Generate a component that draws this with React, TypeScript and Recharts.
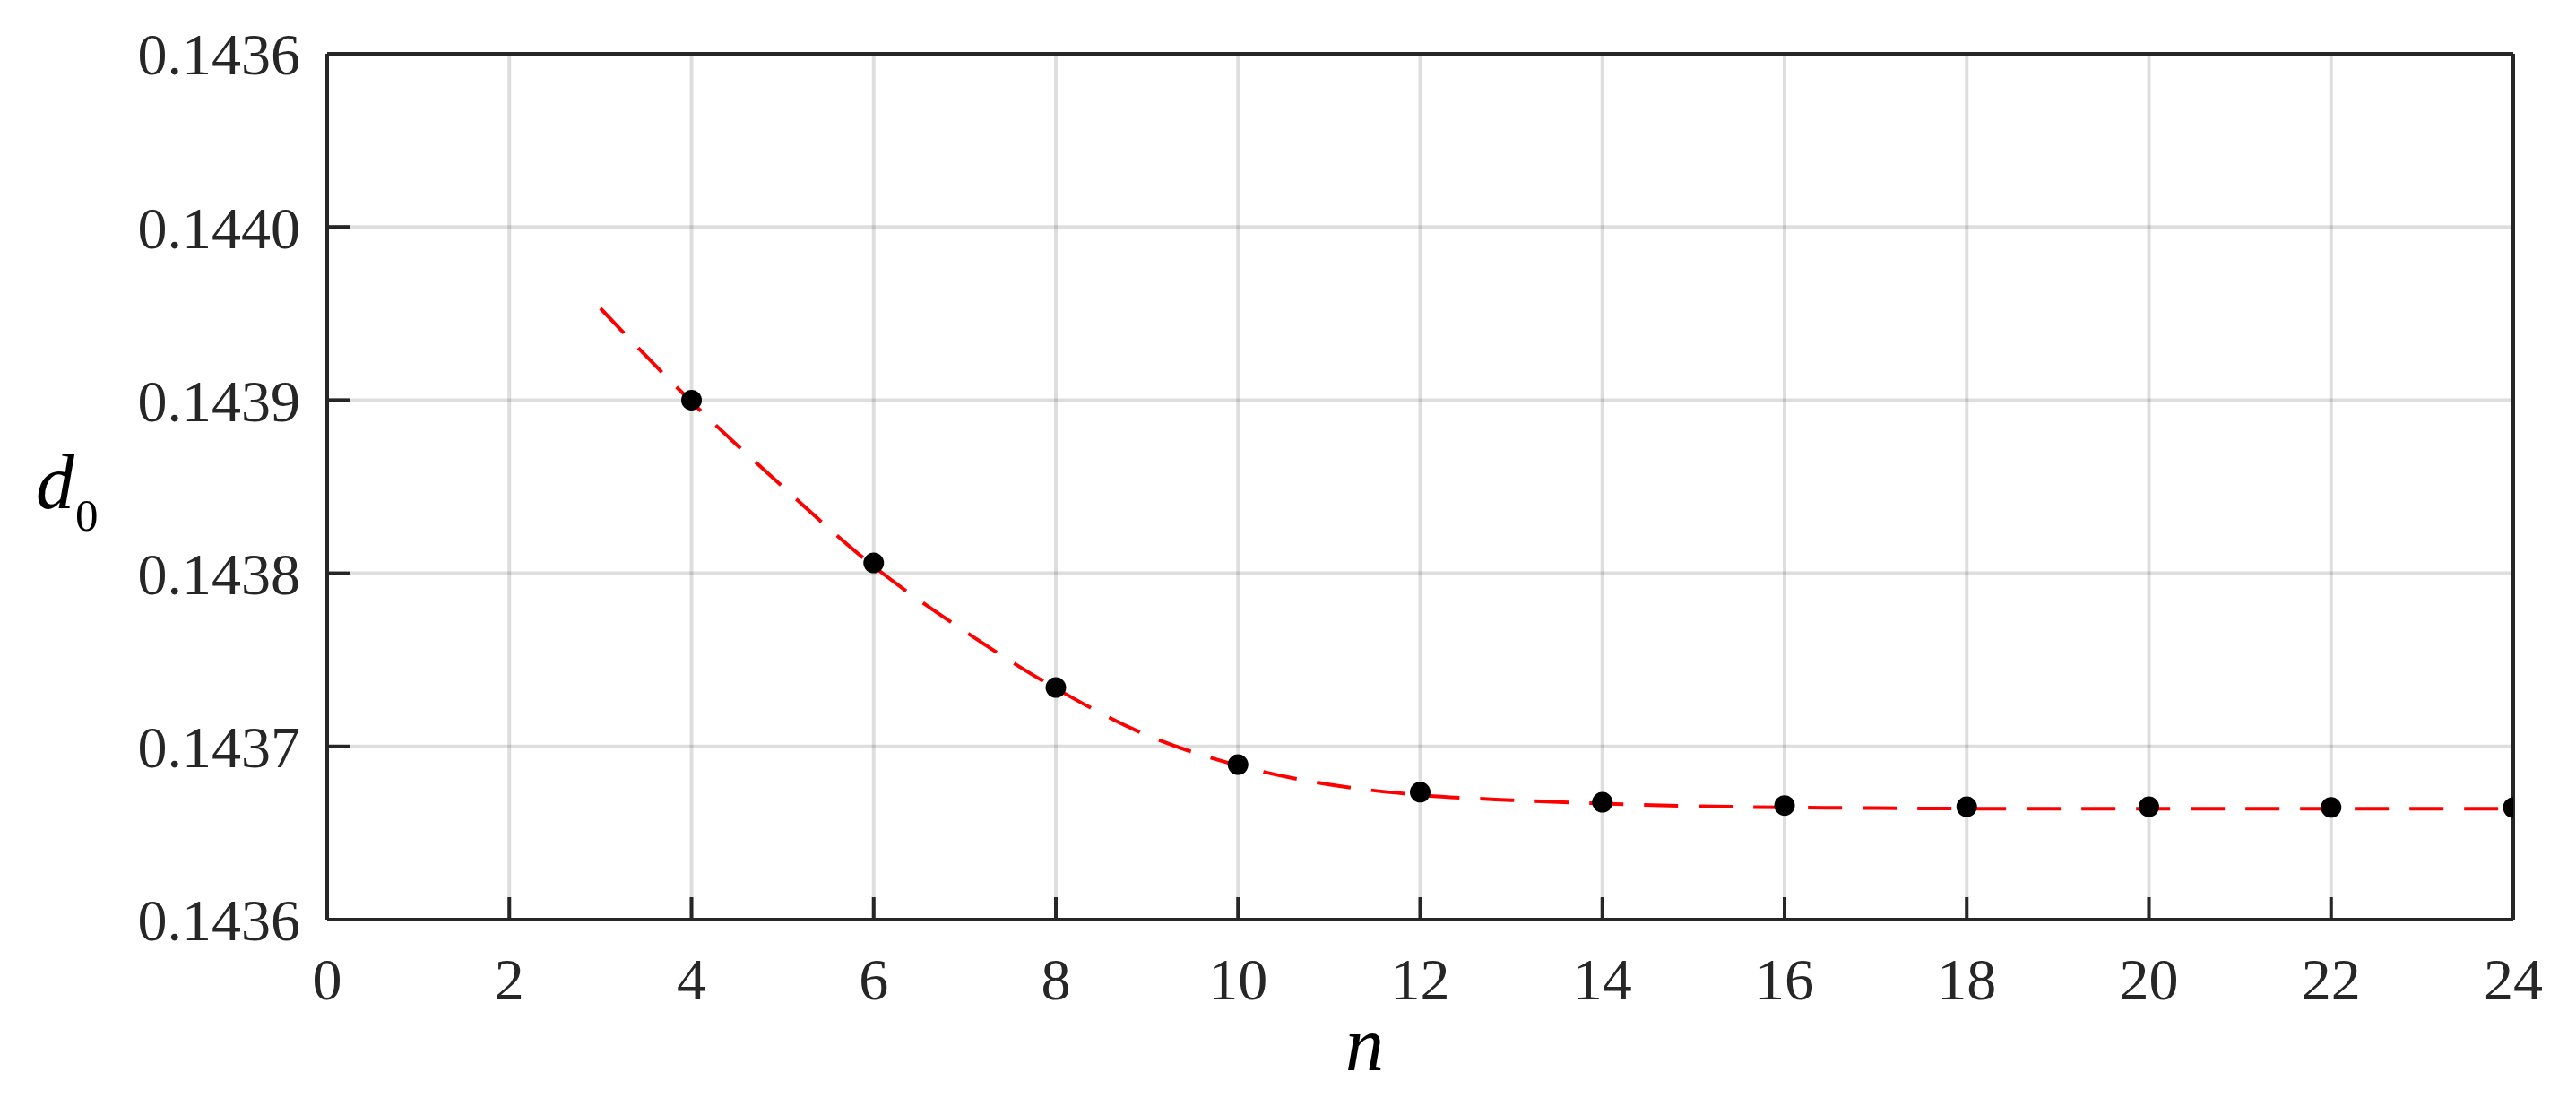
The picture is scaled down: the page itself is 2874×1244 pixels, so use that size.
import React from 'react';
import { ComposedChart, Line, Scatter, XAxis, YAxis, CartesianGrid } from 'recharts';

// Computed points (n, d0)
const nValues = [4, 6, 8, 10, 12, 14, 16, 18, 20, 22, 24];
const d0Values = [0.1439, 0.143806, 0.143734, 0.1436895, 0.1436736, 0.1436678, 0.1436659, 0.1436652, 0.1436652, 0.1436648, 0.1436647];

// Fitted curve (dashed red)
const fitN = [3, 4, 5, 6, 7, 8, 9, 10, 11, 12, 13, 14, 15, 16, 17, 18, 19, 20, 21, 22, 23, 24];
const fitD0 = [0.143953, 0.143899, 0.14385, 0.143804, 0.1437665, 0.1437335, 0.1437065, 0.143689, 0.143678, 0.143672, 0.143669, 0.143667, 0.1436656, 0.1436648, 0.1436644, 0.1436641, 0.143664, 0.143664, 0.143664, 0.143664, 0.143664, 0.143664];

const xTicks = [0, 2, 4, 6, 8, 10, 12, 14, 16, 18, 20, 22, 24];
const yTicks = [0.1436, 0.1437, 0.1438, 0.1439, 0.144, 0.1441];
const yTickLabels = ['0.1436', '0.1437', '0.1438', '0.1439', '0.1440', '0.1436'];

const pointData = nValues.map((n, i) => ({ n, d0: d0Values[i] }));
const fitData = fitN.map((n, i) => ({ n, d0: fitD0[i] }));

const AXIS = '#262626';
const FONT = "'Liberation Serif', 'Times New Roman', serif";
const tickStyle = { fontFamily: FONT, fontSize: 66, fill: AXIS };

const yFmt = (v: number) => {
  const i = yTicks.findIndex((t) => Math.abs(t - v) < 1e-9);
  return i >= 0 ? yTickLabels[i] : String(v);
};

const XLabel = (props: any) => {
  const vb = props.viewBox || { x: 0, y: 0, width: 0, height: 0 };
  return (
    <text
      x={vb.x + vb.width / 2 - 62}
      y={vb.y + 168}
      textAnchor="middle"
      fontFamily={FONT}
      fontStyle="italic"
      fontSize={86}
      fill="#000"
    >
      n
    </text>
  );
};

const YLabel = (props: any) => {
  const vb = props.viewBox || { x: 0, y: 0, width: 0, height: 0 };
  const base = vb.y + vb.height / 2 + 24;
  return (
    <g>
      <text x={vb.x + 40} y={base} fontFamily={FONT} fontStyle="italic" fontSize={86} fill="#000">
        d
      </text>
      <text x={vb.x + 84} y={base + 25} fontFamily={FONT} fontSize={51} fill="#000">
        0
      </text>
    </g>
  );
};

const Dot = (props: any) => {
  const { cx, cy } = props;
  if (cx == null || cy == null) return null;
  return <circle cx={cx} cy={cy} r={11.5} fill="#000" />;
};

export default function App() {
  return (
    <div style={{ position: 'absolute', left: 0, top: 0, background: '#fff' }}>
      <ComposedChart
        width={2874}
        height={1244}
        margin={{ top: 59, right: 69, bottom: 0, left: 0 }}
      >
        <CartesianGrid stroke="#000" strokeOpacity={0.13} strokeWidth={4} />
        <XAxis
          dataKey="n"
          type="number"
          domain={[0, 24]}
          ticks={xTicks}
          allowDataOverflow
          height={218}
          stroke={AXIS}
          axisLine={{ stroke: AXIS, strokeWidth: 4 }}
          tickLine={{ stroke: AXIS, strokeWidth: 4 }}
          tickSize={-25}
          tickMargin={67}
          tick={tickStyle}
          interval={0}
          label={<XLabel />}
        />
        <XAxis
          xAxisId="top"
          orientation="top"
          dataKey="n"
          type="number"
          domain={[0, 24]}
          ticks={xTicks}
          allowDataOverflow
          height={1}
          axisLine={{ stroke: AXIS, strokeWidth: 4 }}
          tickLine={{ stroke: AXIS, strokeWidth: 4 }}
          tickSize={-25}
          tick={false}
          interval={0}
        />
        <YAxis
          type="number"
          domain={[0.1436, 0.1441]}
          ticks={yTicks}
          allowDataOverflow
          width={365}
          axisLine={{ stroke: AXIS, strokeWidth: 4 }}
          tickLine={{ stroke: AXIS, strokeWidth: 4 }}
          tickSize={-25}
          tickMargin={55}
          tick={tickStyle}
          tickFormatter={yFmt}
          interval={0}
          label={<YLabel />}
        />
        <YAxis
          yAxisId="right"
          orientation="right"
          type="number"
          domain={[0.1436, 0.1441]}
          ticks={yTicks}
          allowDataOverflow
          width={1}
          axisLine={{ stroke: AXIS, strokeWidth: 4 }}
          tickLine={{ stroke: AXIS, strokeWidth: 4 }}
          tickSize={-25}
          tick={false}
          interval={0}
        />
        <Scatter data={pointData} dataKey="d0" shape={<Dot />} isAnimationActive={false} />
        <Line
          data={fitData}
          dataKey="d0"
          type="monotone"
          stroke="#ff0000"
          strokeWidth={4}
          strokeDasharray="38 23"
          dot={false}
          activeDot={false}
          isAnimationActive={false}
        />
      </ComposedChart>
    </div>
  );
}
